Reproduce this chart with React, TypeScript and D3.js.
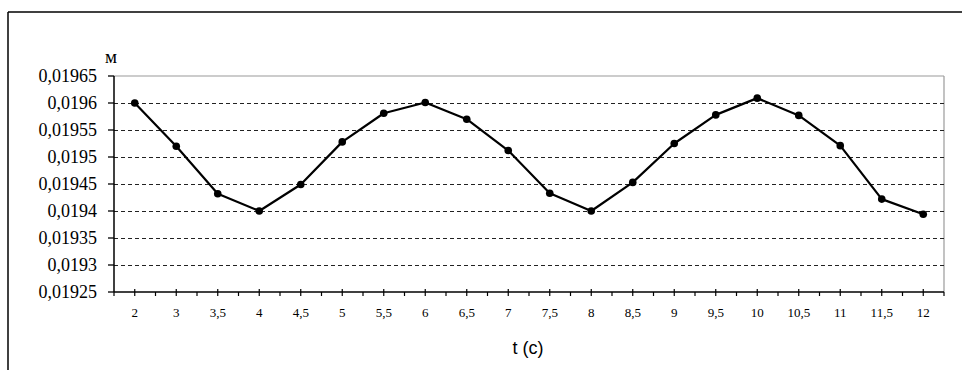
import React from "react";
import * as d3 from "d3";

// categories (t, s) and measured values (m)
const tLabels = ["2", "3", "3,5", "4", "4,5", "5", "5,5", "6", "6,5", "7", "7,5", "8", "8,5", "9", "9,5", "10", "10,5", "11", "11,5", "12"];
const values = [0.0196, 0.01952, 0.019432, 0.0194, 0.019449, 0.019528, 0.019581, 0.019601, 0.01957, 0.019512, 0.019433, 0.0194, 0.019453, 0.019525, 0.019578, 0.019609, 0.019577, 0.019521, 0.019422, 0.019394];
const yTicks = [0.01925, 0.0193, 0.01935, 0.0194, 0.01945, 0.0195, 0.01955, 0.0196, 0.01965];

const width = 962;
const height = 370;
const plot = { left: 114, top: 76, right: 944, bottom: 292 };
const serif = "'Liberation Serif', 'Times New Roman', 'DejaVu Serif', serif";

function fmt(v: number) {
  // excel style: comma decimal separator, no trailing zeros
  return String(+v.toFixed(5)).replace(".", ",");
}

export default function App() {
  const x = d3.scaleBand().domain(tLabels).range([plot.left, plot.right]).padding(0);
  const y = d3.scaleLinear().domain([0.01925, 0.01965]).range([plot.bottom, plot.top]);
  const cx = (i: number) => (x(tLabels[i]) as number) + x.bandwidth() / 2;

  const line = d3
    .line<number>()
    .x((d, i) => cx(i))
    .y((d) => y(d));

  const boundaries = tLabels.map((t) => x(t) as number).concat([plot.right]);

  return (
    <svg
      width={width}
      height={height}
      style={{ position: "absolute", left: 0, top: 0, background: "#fff" }}
    >
      {/* outer frame (cropped) */}
      <line x1={8} y1={12} x2={width} y2={12} stroke="#000" strokeWidth={1.5} />
      <line x1={8} y1={12} x2={8} y2={height} stroke="#000" strokeWidth={1.5} />

      {/* plot area border */}
      <line x1={plot.left} y1={plot.top} x2={plot.right} y2={plot.top} stroke="#9a9a9a" strokeWidth={1.2} />
      <line x1={plot.right} y1={plot.top} x2={plot.right} y2={plot.bottom} stroke="#9a9a9a" strokeWidth={1.2} />

      {/* gridlines */}
      {yTicks
        .filter((v) => v > 0.01925 && v < 0.01965)
        .map((v) => (
          <line
            key={"g" + v}
            x1={plot.left}
            x2={plot.right}
            y1={Math.round(y(v)) + 0.5}
            y2={Math.round(y(v)) + 0.5}
            stroke="#222"
            strokeWidth={1}
            strokeDasharray="4,3"
          />
        ))}

      {/* y axis */}
      <line x1={plot.left} y1={plot.top} x2={plot.left} y2={plot.bottom} stroke="#000" strokeWidth={1.5} />
      {yTicks.map((v) => (
        <g key={"y" + v}>
          <line x1={plot.left - 6} x2={plot.left} y1={y(v)} y2={y(v)} stroke="#000" strokeWidth={1.3} />
          <text
            x={97}
            y={y(v) + 6}
            textAnchor="end"
            style={{ fontFamily: serif, fontSize: 18 }}
            fill="#000"
          >
            {fmt(v)}
          </text>
        </g>
      ))}
      <text x={111} y={63} textAnchor="middle" style={{ fontFamily: serif, fontSize: 19 }} fill="#000">
        м
      </text>

      {/* x axis */}
      <line x1={plot.left} y1={plot.bottom} x2={plot.right} y2={plot.bottom} stroke="#000" strokeWidth={1.5} />
      {boundaries.map((b, i) => (
        <line key={"b" + i} x1={b} x2={b} y1={plot.bottom} y2={plot.bottom + 4} stroke="#000" strokeWidth={1.2} />
      ))}
      {tLabels.map((t, i) => (
        <g key={"x" + t}>
          <line x1={cx(i)} x2={cx(i)} y1={plot.bottom - 3} y2={plot.bottom + 4} stroke="#000" strokeWidth={1.2} />
          <text
            x={cx(i)}
            y={317}
            textAnchor="middle"
            style={{ fontFamily: serif, fontSize: 13 }}
            fill="#000"
          >
            {t}
          </text>
        </g>
      ))}
      <text x={528} y={354} textAnchor="middle" style={{ fontFamily: "'Liberation Sans', Arial, sans-serif", fontSize: 18 }} fill="#000">
        t (c)
      </text>

      {/* series */}
      <path d={line(values) || ""} fill="none" stroke="#000" strokeWidth={2.2} strokeLinejoin="round" />
      {values.map((v, i) => (
        <circle key={"p" + i} cx={cx(i)} cy={y(v)} r={3.8} fill="#000" />
      ))}
    </svg>
  );
}
